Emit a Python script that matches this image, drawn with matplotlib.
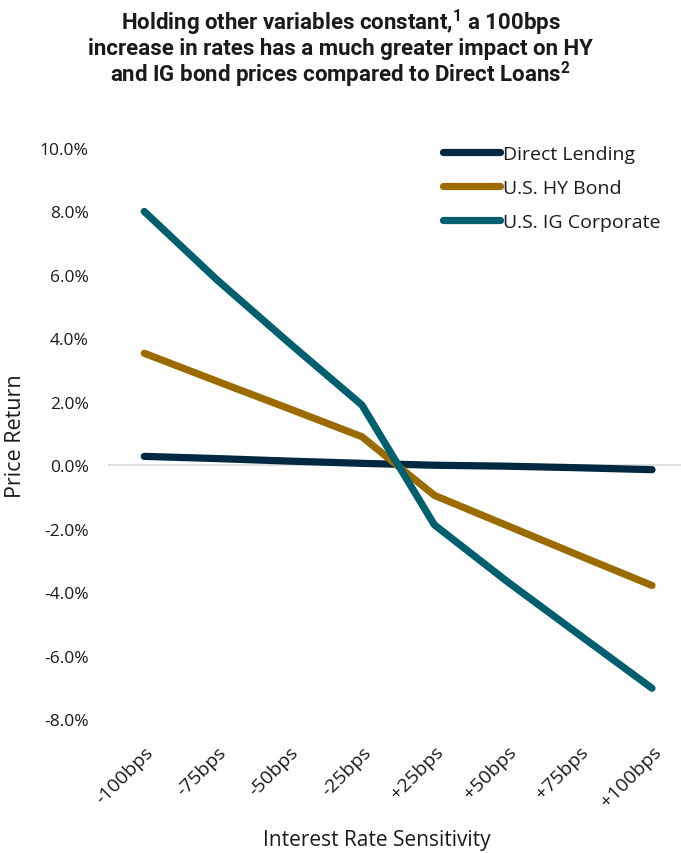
import matplotlib
matplotlib.use("Agg")
import matplotlib.pyplot as plt
from matplotlib.transforms import ScaledTranslation

# categories and series (price return, %)
categories = ["-100bps", "-75bps", "-50bps", "-25bps", "+25bps", "+50bps", "+75bps", "+100bps"]
direct_lending = [0.28, 0.21, 0.13, 0.06, 0.0, -0.03, -0.08, -0.14]
hy_bond = [3.53, 2.65, 1.78, 0.90, -0.95, -1.90, -2.85, -3.79]
ig_corporate = [8.0, 5.85, 3.85, 1.90, -1.88, -3.66, -5.35, -7.03]
yticks = [-8, -6, -4, -2, 0, 2, 4, 6, 8, 10]

title = ("Holding other variables constant,$^{1}$ a 100bps\n"
         "increase in rates has a much greater impact on HY\n"
         "and IG bond prices compared to Direct Loans$^{2}$")

plt.rcParams['font.family'] = ['Open Sans', 'DejaVu Sans']
plt.rcParams['mathtext.fontset'] = 'custom'
plt.rcParams['mathtext.rm'] = 'Roboto:bold'

fig = plt.figure(figsize=(6.81, 8.54), dpi=100)
ax = fig.add_axes([0.1586, 0.1569, 0.8414, 0.6686])

x = range(len(categories))
ax.axhline(0, color="#d9d9d9", lw=1.2, zorder=1)
ax.plot(x, direct_lending, color="#002840", lw=5.2, solid_capstyle="round",
        solid_joinstyle="round", label="Direct Lending", zorder=3)
ax.plot(x, hy_bond, color="#9c6b00", lw=5.2, solid_capstyle="round",
        solid_joinstyle="round", label="U.S. HY Bond", zorder=3)
ax.plot(x, ig_corporate, color="#005f6e", lw=5.2, solid_capstyle="round",
        solid_joinstyle="round", label="U.S. IG Corporate", zorder=3)

ax.set_xlim(-0.5, 7.4)
ax.set_ylim(-8, 10)
ax.set_yticks(yticks)
ax.set_yticklabels([f"{v:.1f}%" for v in yticks], fontsize=12.5, color="#1a1a1a")
ax.set_xticks(list(x))
ax.set_xticklabels(categories, rotation=45, ha="right", va="top",
                   rotation_mode="anchor", fontsize=14, color="#1a1a1a")
shift = ScaledTranslation(-9 / 100, 0, fig.dpi_scale_trans)
for lbl in ax.get_xticklabels():
    lbl.set_transform(lbl.get_transform() + shift)
ax.tick_params(axis="both", length=0)
ax.tick_params(axis="y", pad=14)
ax.tick_params(axis="x", pad=17)
for s in ax.spines.values():
    s.set_visible(False)

leg = ax.legend(loc="upper left", bbox_to_anchor=(0.585, 1.005), frameon=False,
                fontsize=14, handlelength=2.93, handletextpad=0.15,
                labelspacing=0.81, borderpad=0, borderaxespad=0)
for t in leg.get_texts():
    t.set_color("#1a1a1a")

fig.text(0.5, 1 - 8 / 854, title, ha="center", va="top", fontsize=16,
         fontweight="bold", family="Roboto", linespacing=0.98, color="#1a1a1a")
fig.text(377 / 681, 1 - 841 / 854, "Interest Rate Sensitivity", ha="center",
         va="center", fontsize=15, color="#1a1a1a")
fig.text(16 / 681, 1 - 436 / 854, "Price Return", ha="center", va="center",
         rotation=90, fontsize=15.5, color="#1a1a1a")

fig.savefig("out.png", dpi=100)
